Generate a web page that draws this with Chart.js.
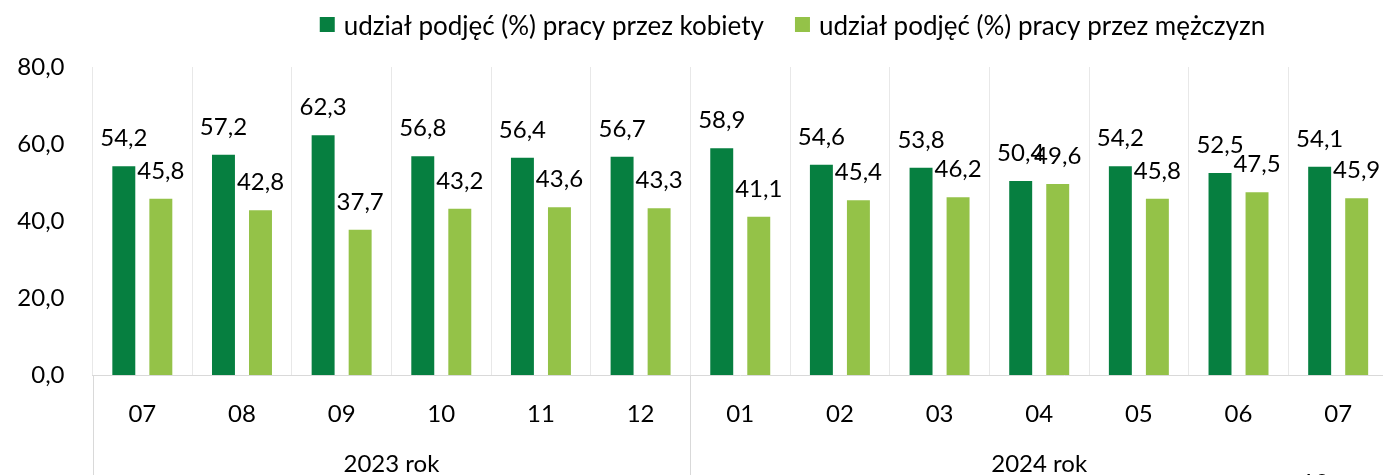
<!DOCTYPE html>
<html><head><meta charset="utf-8">
<script src="https://cdn.jsdelivr.net/npm/chart.js@4/dist/chart.umd.min.js"></script>
<style>
html,body{margin:0;padding:0;overflow:hidden;background:#fff;width:1383px;height:475px}
#wrap{position:absolute;left:0;top:0;width:1388px;height:475px}
canvas{display:block}
</style></head>
<body><div id="wrap"><canvas id="c" width="1388" height="475"></canvas></div>
<script>
// ---- data ----
const months = ['07','08','09','10','11','12','01','02','03','04','05','06','07'];
const years = ['2023 rok','2024 rok'];
const yearSpans = [6, 7];
const women = [54.2, 57.2, 62.3, 56.8, 56.4, 56.7, 58.9, 54.6, 53.8, 50.4, 54.2, 52.5, 54.1];
const men   = [45.8, 42.8, 37.7, 43.2, 43.6, 43.3, 41.1, 45.4, 46.2, 49.6, 45.8, 47.5, 45.9];
const seriesNames = ['udział podjęć (%) pracy przez kobiety', 'udział podjęć (%) pracy przez mężczyzn'];
const yTicks = [0, 20, 40, 60, 80];
const pageNumber = '10';

// ---- style ----
const FONT = 'Lato';
const FS = 24;
const LEG_FS = 26;
const DARK = '#067f40';
const LIGHT = '#94c248';
const GRID = '#e8e8e8';
const AXIS = '#d9d9d9';
const fmt = v => Number(v).toFixed(1).replace('.', ',');

const extras = {
  id: 'extras',
  afterDatasetsDraw(chart) {
    const ctx = chart.ctx;
    ctx.save();
    ctx.font = FS + 'px ' + FONT;
    ctx.fillStyle = '#000';
    ctx.textAlign = 'center';
    ctx.textBaseline = 'alphabetic';
    chart.data.datasets.forEach((ds, di) => {
      const meta = chart.getDatasetMeta(di);
      meta.data.forEach((el, i) => {
        ctx.fillText(fmt(ds.data[i]), el.x, el.y - 20);
      });
    });
    ctx.restore();
  },
  afterDraw(chart) {
    const ctx = chart.ctx;
    const xs = chart.scales.x;
    const catW = (xs.right - xs.left) / months.length;
    ctx.save();
    // group separators and labels
    ctx.strokeStyle = AXIS;
    ctx.lineWidth = 1;
    let start = 0;
    const bounds = [];
    yearSpans.forEach((n, g) => {
      const l = xs.left + start * catW;
      const r = l + n * catW;
      bounds.push(l);
      if (g === yearSpans.length - 1) bounds.push(r);
      ctx.font = FS + 'px ' + FONT;
      ctx.fillStyle = '#000';
      ctx.textAlign = 'center';
      ctx.textBaseline = 'alphabetic';
      ctx.fillText(years[g], (l + r) / 2, 472);
      start += n;
    });
    bounds.forEach(b => {
      const x = Math.round(b) + 0.5;
      ctx.beginPath();
      ctx.moveTo(x, xs.top);
      ctx.lineTo(x, chart.height);
      ctx.stroke();
    });
    // legend
    ctx.font = LEG_FS + 'px ' + FONT;
    ctx.textBaseline = 'alphabetic';
    ctx.textAlign = 'left';
    const box = 15, gapBT = 9, gapItems = 31;
    const widths = seriesNames.map(s => ctx.measureText(s).width);
    const total = widths.reduce((a, w) => a + box + gapBT + w, 0) + gapItems * (seriesNames.length - 1);
    let x = 792.5 - total / 2;
    chart.data.datasets.forEach((ds, i) => {
      ctx.fillStyle = ds.backgroundColor;
      ctx.fillRect(x, 17, box, box);
      ctx.fillStyle = '#000';
      ctx.fillText(seriesNames[i], x + box + gapBT, 35);
      x += box + gapBT + widths[i] + gapItems;
    });
    // page number (cut by bottom edge)
    ctx.font = FS + 'px ' + FONT;
    ctx.fillStyle = '#000';
    ctx.textAlign = 'center';
    ctx.fillText(pageNumber, 1315, 491);
    ctx.restore();
  }
};

new Chart(document.getElementById('c'), {
  type: 'bar',
  data: {
    labels: months,
    datasets: [
      { label: seriesNames[0], data: women, backgroundColor: DARK, categoryPercentage: 0.743, barPercentage: 0.62 },
      { label: seriesNames[1], data: men, backgroundColor: LIGHT, categoryPercentage: 0.743, barPercentage: 0.62 }
    ]
  },
  options: {
    responsive: false,
    animation: false,
    events: [],
    layout: { padding: { top: 67, left: 0, right: 0, bottom: 0 } },
    plugins: { legend: { display: false }, tooltip: { enabled: false } },
    scales: {
      x: {
        grid: { offset: true, color: GRID, drawTicks: false },
        border: { color: AXIS },
        ticks: { font: { family: FONT, size: FS }, color: '#000', padding: 25, maxRotation: 0, autoSkip: false },
        afterFit(s) { s.height = 100; }
      },
      y: {
        min: 0, max: 80,
        afterBuildTicks(s) { s.ticks = yTicks.map(v => ({ value: v })); },
        ticks: { font: { family: FONT, size: FS }, color: '#000', padding: 28, callback: v => fmt(v) },
        grid: { display: false, drawTicks: false },
        border: { display: false },
        afterFit(s) { s.width = 92.5; }
      }
    }
  },
  plugins: [extras]
});
</script>
</body></html>
